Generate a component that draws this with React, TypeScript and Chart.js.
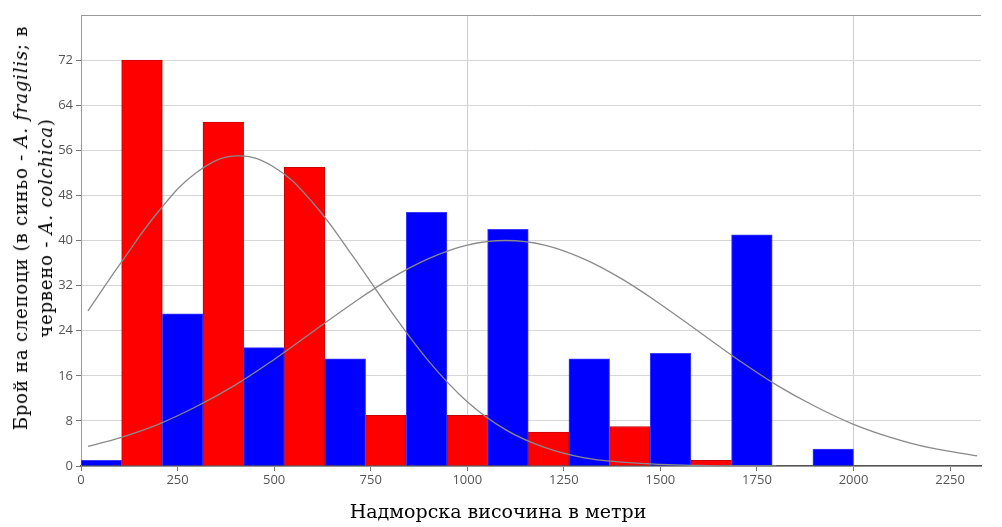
import React, { useEffect, useRef } from "react";
import { Chart, registerables } from "chart.js";

Chart.register(...registerables);

// Histogram bins (centres of the altitude classes, m) and counts
const blueBinCenters = [52.6, 263.2, 473.7, 684.2, 894.7, 1105.3, 1315.8, 1526.3, 1736.8, 1947.4];
const blueCounts = [1, 27, 21, 19, 45, 42, 19, 20, 41, 3];
const redBinCenters = [157.9, 368.4, 578.9, 789.5, 1000, 1210.5, 1421.1, 1631.6, 1842.1];
const redCounts = [72, 61, 53, 9, 9, 6, 7, 1, 0];

// Fitted curves, values
const redCurveX = [18, 100, 200, 300, 400, 500, 600, 700, 800, 900, 1000, 1100, 1200, 1300, 1400, 1500, 1600, 1700, 1800];
const redCurveY = [27.5, 35.7, 45.1, 52.1, 55.0, 53.0, 46.7, 37.6, 27.7, 18.6, 11.4, 6.4, 3.3, 1.5, 0.7, 0.3, 0.1, 0.0, 0.0];
const blueCurveX = [18, 100, 200, 300, 400, 500, 600, 700, 800, 900, 1000, 1100, 1200, 1300, 1400, 1500, 1600, 1700, 1800, 1900, 2000, 2100, 2200, 2320];
const blueCurveY = [3.5, 5.0, 7.4, 10.6, 14.4, 18.9, 23.8, 28.7, 33.2, 36.8, 39.2, 40.0, 39.2, 36.8, 33.2, 28.7, 23.8, 18.9, 14.4, 10.6, 7.4, 5.0, 3.2, 1.8];

const xMin = 0;
const xMax = 2330;
const xStep = 250;
const yMin = 0;
const yMax = 80;
const yStep = 8;

const xTitle = "Надморска височина в метри";

export default function App() {
  const canvasRef = useRef<HTMLCanvasElement | null>(null);

  useEffect(() => {
    const canvas = canvasRef.current;
    if (!canvas) return;
    const tickFont = { family: "'Open Sans', 'DejaVu Sans', sans-serif", size: 13 };
    const chart = new Chart(canvas, {
      type: "bar",
      data: {
        datasets: [
          {
            type: "line",
            data: redCurveX.map((x, i) => ({ x, y: redCurveY[i] })),
            borderColor: "#8a8a8a",
            borderWidth: 1.3,
            pointRadius: 0,
            tension: 0.4,
            fill: false,
            order: 0,
          } as any,
          {
            type: "line",
            data: blueCurveX.map((x, i) => ({ x, y: blueCurveY[i] })),
            borderColor: "#8a8a8a",
            borderWidth: 1.3,
            pointRadius: 0,
            tension: 0.4,
            fill: false,
            order: 0,
          } as any,
          {
            type: "bar",
            data: blueBinCenters.map((x, i) => ({ x, y: blueCounts[i] })),
            backgroundColor: "#0000ff",
            borderColor: "#3b3bff",
            borderWidth: 1,
            grouped: false,
            barPercentage: 1,
            categoryPercentage: 1,
            order: 2,
          } as any,
          {
            type: "bar",
            data: redBinCenters.map((x, i) => ({ x, y: redCounts[i] })),
            backgroundColor: "#ff0000",
            borderColor: "#c80000",
            borderWidth: 1,
            grouped: false,
            barPercentage: 1,
            categoryPercentage: 1,
            order: 2,
          } as any,
        ],
      },
      options: {
        responsive: false,
        maintainAspectRatio: false,
        animation: false,
        layout: { padding: { left: 0, right: 21, top: 15, bottom: 0 } },
        plugins: { legend: { display: false }, tooltip: { enabled: false } },
        scales: {
          x: {
            type: "linear",
            min: xMin,
            max: xMax,
            offset: false,
            afterFit: (s: any) => {
              s.height = 61;
            },
            ticks: {
              stepSize: xStep,
              includeBounds: false,
              color: "#555",
              font: tickFont,
              padding: 1,
              maxRotation: 0,
              autoSkip: false,
              callback: (v: any) => String(v),
            },
            grid: {
              offset: false,
              color: (c: any) =>
                c.tick && c.tick.value > 0 && c.tick.value % 1000 === 0 ? "#cdcdcd" : "rgba(0,0,0,0)",
              tickColor: "#777",
              tickLength: 5,
              lineWidth: 1,
            },
            border: { color: "#555", width: 1.5 },
          } as any,
          y: {
            type: "linear",
            min: yMin,
            max: yMax,
            afterFit: (s: any) => {
              s.width = 81;
            },
            ticks: {
              stepSize: yStep,
              color: "#555",
              font: tickFont,
              padding: 3,
              callback: (v: any) => (v === yMax ? "" : String(v)),
            },
            grid: {
              color: (c: any) => (c.tick && c.tick.value === yMax ? "#999" : "#d6d6d6"),
              tickColor: (c: any) => (c.tick && c.tick.value === yMax ? "rgba(0,0,0,0)" : "#777"),
              tickLength: 5,
            },
            border: { color: "#999", width: 1 },
          } as any,
        },
      },
    });
    return () => chart.destroy();
  }, []);

  return (
    <div style={{ position: "absolute", left: 0, top: 0, width: 1002, height: 527, background: "#fff", overflow: "hidden" }}>
      <canvas ref={canvasRef} width={1002} height={527} style={{ display: "block" }} />
      <div
        style={{
          position: "absolute",
          left: 33,
          top: 228,
          transform: "translate(-50%, -50%) rotate(-90deg)",
          whiteSpace: "nowrap",
          textAlign: "center",
          fontFamily: "'DejaVu Serif', serif",
          fontSize: 18,
          letterSpacing: "0.8px",
          lineHeight: "25px",
          color: "#000",
        }}
      >
        Брой на слепоци (в синьо - <i>A. fragilis</i>; в
        <br />
        червено - <i>A. colchica</i>)
      </div>
      <div
        style={{
          position: "absolute",
          left: 498,
          top: 511,
          transform: "translate(-50%, -50%)",
          whiteSpace: "nowrap",
          fontFamily: "'DejaVu Serif', serif",
          fontSize: 19,
          color: "#000",
        }}
      >
        {xTitle}
      </div>
    </div>
  );
}
